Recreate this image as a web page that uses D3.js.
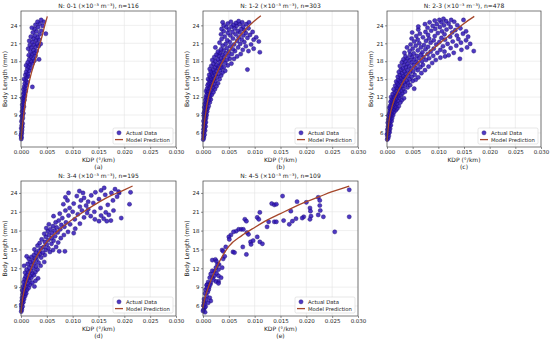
<!DOCTYPE html>
<html>
<head>
<meta charset="utf-8">
<script src="https://cdn.jsdelivr.net/npm/d3@7"></script>
<style>
  body { margin: 0; background: #fff; }
  svg { display: block; }
  text { font-family: "DejaVu Sans", sans-serif; fill: #222; }
</style>
</head>
<body>
<div id="chart"></div>
<script>
// Panel titles and sub-captions
const titles = [
  "N: 0-1 (×10⁻³ m⁻³), n=116",
  "N: 1-2 (×10⁻³ m⁻³), n=303",
  "N: 2-3 (×10⁻³ m⁻³), n=478",
  "N: 3-4 (×10⁻³ m⁻³), n=195",
  "N: 4-5 (×10⁻³ m⁻³), n=109"
];
const tags = ["(a)", "(b)", "(c)", "(d)", "(e)"];
const xTicks = [0, 0.005, 0.010, 0.015, 0.020, 0.025, 0.030];
const yTicks = [6, 9, 12, 15, 18, 21, 24];
const legendLabels = ["Actual Data", "Model Prediction"];

// Scatter points: [KDP in 1e-3 °/km, body length mm]
const pointsA = [[0.05,5.0],[0.1,5.3],[0.0,5.6],[0.15,5.9],[0.1,6.2],[0.2,6.5],[0.05,6.8],[0.25,7.0],[0.15,7.3],[0.3,7.6],[0.1,7.9],[0.2,8.2],[0.35,8.5],[0.15,8.8],[0.3,9.0],[0.45,9.3],[0.2,9.6],[0.4,9.9],[0.3,10.2],[0.55,10.4],[0.25,10.7],[0.5,11.0],[0.4,11.3],[0.65,11.5],[0.3,11.8],[0.55,12.0],[0.75,12.2],[0.45,12.5],[0.6,12.8],[0.9,13.0],[0.5,13.3],[0.8,13.5],[0.65,13.8],[1.0,14.0],[2.2,13.7],[0.75,14.3],[1.2,14.5],[0.9,14.8],[0.6,15.0],[1.1,15.3],[1.4,15.5],[0.85,15.7],[1.3,15.9],[1.0,16.2],[1.6,16.4],[1.2,16.7],[1.9,16.9],[1.4,17.1],[1.0,17.3],[1.7,17.5],[2.2,17.6],[1.3,17.8],[2.0,18.0],[2.6,18.1],[3.5,18.3],[1.6,18.3],[2.3,18.5],[1.9,18.8],[2.8,18.9],[1.5,19.0],[2.2,19.2],[2.6,19.4],[1.8,19.6],[3.0,19.7],[2.4,19.9],[1.4,20.1],[2.0,20.3],[2.8,20.4],[3.4,20.5],[1.7,20.7],[2.5,20.8],[3.1,21.0],[3.8,20.9],[2.2,21.2],[1.6,21.4],[2.9,21.5],[3.5,21.6],[2.4,21.8],[3.2,22.0],[1.9,22.1],[2.7,22.3],[4.8,22.6],[3.6,22.5],[2.3,22.8],[3.0,23.0],[3.9,23.1],[2.6,23.4],[2.1,23.6],[3.3,23.7],[4.2,23.9],[2.8,24.1],[3.6,24.3],[4.4,24.6],[3.2,24.6],[3.9,24.9]];

const pointsB = [[0.05,4.9],[0.15,5.2],[0.1,5.5],[0.3,5.7],[0.05,6.0],[0.2,6.2],[0.4,6.4],[0.1,6.6],[0.3,6.8],[0.2,7.0],[0.5,7.1],[0.15,7.3],[0.35,7.5],[0.25,7.7],[0.55,7.8],[0.1,8.0],[0.4,8.2],[0.3,8.4],[0.6,8.5],[0.2,8.7],[0.45,8.9],[0.7,9.0],[0.35,9.1],[0.15,9.3],[0.55,9.4],[0.8,9.6],[0.3,9.7],[0.6,9.9],
[0.4,10.0],[0.9,10.1],[0.25,10.3],[0.7,10.4],[1.1,10.5],[0.5,10.7],[0.35,10.9],[0.85,11.0],[1.3,11.1],[0.6,11.2],[1.0,11.4],[0.45,11.5],[0.75,11.7],[1.5,11.6],[1.2,11.8],[0.55,12.0],[0.95,12.1],[1.4,12.2],[0.7,12.4],[1.7,12.4],[1.1,12.6],[0.85,12.8],[1.3,12.9],[2.0,12.8],[0.6,13.0],
[1.0,13.1],[1.6,13.2],[2.3,13.3],[0.8,13.4],[1.2,13.6],[1.9,13.6],[1.4,13.8],[2.6,13.8],[0.9,14.0],[1.7,14.0],[2.1,14.2],[1.1,14.3],[1.5,14.4],[2.9,14.3],[1.8,14.6],[1.3,14.8],[2.4,14.7],[2.0,14.9],[1.0,15.0],[1.6,15.1],[3.2,15.0],[2.2,15.2],[1.4,15.4],[2.7,15.4],[1.9,15.6],[3.5,15.6],[1.2,15.7],[2.4,15.8],[3.0,15.9],[1.7,16.0],[2.1,16.2],[3.8,16.1],[1.5,16.3],[2.6,16.4],[3.3,16.5],[4.3,16.4],[2.0,16.6],[1.3,16.7],[2.9,16.8],[3.6,16.9],
[8.6,16.6],[2.3,17.0],[4.0,17.0],[1.6,17.2],[3.0,17.2],[4.8,17.3],[2.6,17.4],[3.5,17.5],[2.0,17.6],[4.3,17.7],[5.5,17.6],[3.2,17.9],[2.4,18.0],[3.8,18.1],[1.8,18.2],[4.6,18.2],[2.9,18.3],[5.2,18.4],[3.5,18.5],[6.0,18.4],[2.2,18.7],[4.1,18.7],[3.0,18.9],[4.9,18.9],[6.6,18.8],[2.6,19.1],[3.7,19.1],[5.6,19.2],[4.4,19.3],[7.3,19.2],[3.3,19.4],[11.0,19.5],[2.9,19.6],[5.0,19.6],[6.2,19.7],[4.0,19.8],[8.8,19.7],[3.5,20.0],[5.8,20.0],[7.7,19.9],[4.6,20.2],[2.4,20.3],[6.8,20.3],[9.8,20.1],[5.3,20.5],
[3.8,20.6],[8.3,20.5],[6.0,20.8],[4.4,20.9],[7.2,20.9],[9.3,20.8],[10.8,21.3],[3.2,21.1],[5.2,21.2],[8.0,21.2],[6.6,21.4],[4.7,21.5],[9.8,21.6],[7.5,21.6],[3.6,21.7],[5.8,21.8],[8.6,21.9],[6.9,22.0],[4.2,22.1],[10.3,22.0],[5.3,22.3],[7.8,22.3],[9.1,22.4],[3.5,22.5],[6.3,22.5],[4.8,22.7],[8.3,22.7],[7.1,22.8],[5.7,22.9],[9.6,22.9],[4.0,23.0],[6.7,23.1],[8.0,23.2],[5.0,23.3],[3.6,23.4],[7.4,23.4],[6.1,23.5],[8.8,23.5],[4.5,23.7],[5.5,23.8],[7.8,23.8],[6.5,23.9],[4.0,24.0],[5.9,24.1],[7.1,24.2],[8.4,24.2],[4.8,24.3],[6.4,24.4],[3.8,24.5],[7.6,24.5],[5.4,24.6],[8.9,24.5],[6.9,24.7]];

const pointsC = [[0.05,4.9],[0.2,5.1],[0.1,5.4],[0.35,5.5],[0.0,5.8],[0.25,5.9],[0.5,6.1],[0.15,6.3],[0.4,6.4],[0.1,6.6],[0.6,6.7],[0.3,6.9],[0.2,7.1],[0.5,7.2],[0.75,7.3],[0.35,7.5],[0.15,7.7],[0.6,7.8],[0.45,8.0],[0.9,8.0],[0.25,8.2],[0.7,8.3],[0.4,8.5],[1.0,8.5],[0.55,8.7],[0.3,8.9],[0.85,8.9],[1.2,9.0],[0.65,9.1],[0.45,9.3],[1.0,9.3],
[0.8,9.5],[1.4,9.5],[0.55,9.7],[1.1,9.8],[1.7,9.8],[0.7,10.0],[1.3,10.1],[0.45,10.2],[2.0,10.1],[0.95,10.3],[1.6,10.4],[0.6,10.5],[1.2,10.6],[2.3,10.5],[0.85,10.8],[1.5,10.8],[1.9,10.9],[1.05,11.0],[0.7,11.2],[1.7,11.2],[2.6,11.1],[1.3,11.3],[2.1,11.4],[0.9,11.5],[1.55,11.6],[2.9,11.5],[1.15,11.8],[1.9,11.8],[2.4,11.9],[3.3,11.8],[0.8,12.0],[1.4,12.1],[2.2,12.2],[1.7,12.3],[2.7,12.3],[1.1,12.5],[2.0,12.6],[3.0,12.6],
[1.5,12.8],[2.4,12.9],[3.5,12.9],[1.8,13.1],[2.8,13.1],[1.3,13.3],[2.2,13.4],[5.3,13.4],[3.2,13.4],[1.9,13.6],[2.6,13.7],[4.0,13.6],[1.6,13.9],[3.0,13.9],[2.3,14.0],[3.6,14.1],[4.5,14.0],[2.0,14.3],[2.8,14.3],[3.3,14.5],[4.1,14.4],[1.8,14.6],[2.5,14.7],[5.0,14.7],[3.8,14.8],[2.2,14.9],[3.0,15.0],[4.4,15.0],[5.6,14.9],[2.7,15.2],[3.5,15.3],[2.1,15.4],[4.8,15.4],[6.1,15.3],[3.2,15.5],[4.1,15.6],[2.5,15.7],[5.4,15.7],[3.7,15.9],
[2.9,16.0],[4.5,16.1],[6.7,16.0],[2.3,16.2],[3.4,16.3],[5.1,16.3],[4.0,16.5],[6.0,16.5],[2.7,16.6],[7.4,16.5],[3.1,16.8],[4.7,16.8],[5.6,16.9],[3.7,17.0],[6.5,17.0],[2.5,17.2],[4.3,17.2],[8.1,17.1],[5.2,17.4],[3.3,17.4],[7.0,17.4],[6.0,17.6],[4.0,17.6],[2.9,17.8],[4.8,17.8],[8.8,17.7],[5.7,17.9],[3.6,18.0],[6.8,18.0],[4.4,18.2],[7.6,18.2],[3.2,18.3],[5.3,18.3],[9.5,18.2],[6.2,18.5],[4.0,18.5],[8.2,18.5],[14.2,18.4],[4.9,18.7],[7.1,18.7],[10.4,18.6],[5.8,18.9],[3.6,18.8],[9.0,18.9],[6.6,19.1],[11.3,18.8],[4.5,19.1],[7.9,19.2],[12.0,19.0],
[5.2,19.3],[9.8,19.4],[3.4,19.4],[6.9,19.5],[13.0,19.4],[8.5,19.6],[4.4,19.7],[11.2,19.6],[16.9,19.7],[6.0,19.8],[10.4,19.9],[7.5,20.0],[14.5,19.9],[5.0,20.1],[9.1,20.1],[12.4,20.2],[3.9,20.3],[6.6,20.3],[8.0,20.4],[15.6,20.3],[10.9,20.5],[5.6,20.6],[13.5,20.6],[7.2,20.7],[9.6,20.8],[4.6,20.8],[11.8,20.9],[6.3,21.0],[16.2,20.9],[8.5,21.1],[14.4,21.1],[10.2,21.2],[5.3,21.3],[12.8,21.3],[7.6,21.4],[9.1,21.5],[15.4,21.5],[6.0,21.6],[11.3,21.6],[13.9,21.7],[4.8,21.8],[8.2,21.8],
[10.6,21.9],[7.0,22.0],[12.3,22.1],[15.8,22.1],[5.7,22.2],[9.3,22.2],[13.6,22.3],[8.0,22.4],[11.2,22.5],[6.4,22.6],[14.8,22.6],[9.9,22.7],[12.7,22.8],[4.9,22.8],[7.5,22.9],[15.4,23.0],[10.7,23.0],[8.6,23.1],[13.3,23.2],[6.1,23.3],[11.6,23.3],[9.4,23.4],[14.3,23.5],[7.9,23.6],[10.3,23.7],[12.4,23.7],[6.1,23.8],[8.9,23.9],[11.1,24.0],[13.7,24.0],[9.7,24.2],[7.4,24.2],[12.0,24.3],[10.6,24.5],[8.3,24.5],[11.5,24.7],[13.1,24.6],[9.3,24.8],[12.5,24.9],[10.2,24.9],[11.0,25.1],[14.9,24.9]];

const pointsD = [[0.05,5.1],[0.15,5.4],[0.1,5.7],[0.3,5.9],[0.05,6.2],[0.25,6.4],[0.45,6.6],[0.15,6.8],[0.35,7.0],[0.6,7.1],[0.2,7.3],[0.5,7.5],[0.8,7.6],[0.3,7.8],[0.65,8.0],[1.0,8.0],[0.45,8.2],[0.85,8.4],[0.25,8.5],
[1.2,8.6],[0.6,8.8],[1.5,8.9],[0.4,9.1],[1.0,9.2],[2.6,9.1],[0.75,9.4],[1.8,9.4],[1.3,9.6],[0.5,9.8],[2.2,9.7],[1.0,10.0],[1.6,10.1],[2.8,10.0],[0.7,10.3],[1.3,10.4],[2.0,10.5],[3.3,10.4],[0.9,10.7],[1.7,10.8],[2.5,10.9],[1.2,11.0],[2.2,11.2],[0.8,11.3],
[1.5,11.4],[2.8,11.4],[1.9,11.6],[1.1,11.8],[3.2,11.8],[2.4,12.0],[1.6,12.1],[0.6,12.4],[2.9,12.3],[2.0,12.5],[3.8,12.4],[1.3,12.7],[2.6,12.8],[3.4,12.9],[1.8,13.0],[4.5,13.0],[2.3,13.2],[3.0,13.4],[1.5,13.5],[2.7,13.6],[3.9,13.7],[2.0,13.8],[3.3,14.0],[1.1,13.9],[2.5,14.1],[4.6,14.1],[3.7,14.3],
[2.9,14.5],[4.2,14.5],[8.5,14.7],[5.6,14.6],[3.5,14.8],[7.4,14.7],[4.8,14.9],[6.2,14.9],[2.6,15.0],[3.9,15.2],[5.3,15.2],[4.4,15.4],[6.8,15.4],[3.2,15.6],[5.0,15.8],[5.9,15.9],[3.6,16.0],[4.6,16.2],[7.2,16.1],[6.3,16.4],[5.3,16.5],[4.0,16.6],
[5.9,16.8],[7.7,16.8],[4.8,17.0],[6.6,17.1],[5.4,17.3],[8.3,17.3],[10.2,17.6],[4.5,17.5],[6.0,17.6],[7.1,17.7],[5.2,17.9],[9.1,17.8],[6.5,18.0],[5.7,18.2],[7.6,18.2],[10.5,18.3],[4.9,18.4],[6.9,18.5],[8.4,18.6],[6.2,18.7],[7.8,18.9],[5.4,19.0],[9.5,19.0],[11.4,19.1],
[6.7,19.3],[8.7,19.3],[15.1,19.5],[16.6,19.5],[17.4,19.6],[7.3,19.6],[19.4,20.0],[10.4,19.8],[14.3,19.8],[16.0,19.9],[8.0,20.0],[12.2,20.1],[6.3,20.3],[9.2,20.4],[13.5,20.3],[15.5,20.4],[17.0,20.5],[11.0,20.6],[7.5,20.7],[12.8,20.8],[16.4,20.9],[10.0,21.0],[14.2,21.0],[8.6,21.2],[11.8,21.2],[17.9,21.2],[13.0,21.4],
[21.0,22.2],[9.4,21.6],[15.4,21.6],[11.4,21.8],[12.6,22.0],[16.8,22.1],[8.2,22.2],[10.2,22.3],[14.0,22.4],[13.0,22.6],[9.0,22.8],[11.6,22.8],[17.8,22.8],[15.1,23.0],[12.2,23.2],[8.6,23.3],[18.6,23.4],[10.8,23.5],[13.6,23.6],[16.3,23.7],[9.2,24.0],[12.0,24.0],[14.4,24.1],[17.5,24.0],[19.0,24.0],[21.2,24.1],[11.3,24.3],[15.5,24.4],[18.2,24.6],[16.1,24.8],[18.9,24.2]];

const pointsE = [[28.3,24.5],[28.3,20.2],[25.5,17.8],[22.6,22.0],[22.3,23.3],[22.6,22.8],[22.7,21.2],[22.3,20.5],[23.3,20.2],[20.7,21.6],[20.8,21.1],[20.9,20.3],[20.7,19.8],[20.0,22.5],[19.5,20.2],[19.2,20.0],[18.2,22.6],[18.0,19.9],[17.3,19.5],[16.7,19.0],[17.0,21.1],[15.4,23.5],[15.6,19.6],[13.3,22.3],[13.8,22.1],[14.2,22.2],[13.8,19.4],[14.2,19.4],[12.7,19.4],[12.4,18.6],[11.0,20.9],[10.5,20.1],[10.8,19.8],[11.0,16.2],[11.5,15.9],[10.5,17.0],[8.1,19.8],[8.4,19.5],[8.5,17.7],[8.8,17.4],[8.4,14.2],[6.9,18.2],[7.4,18.2],[7.8,18.2],[6.4,17.9],[5.9,17.8],[9.2,16.2],[9.7,16.4],[9.3,15.8],[7.7,15.4],[5.4,17.3],[5.0,17.0],[4.4,15.4],[3.7,14.9],[3.9,14.7],[5.8,14.6],[6.1,14.5],[5.1,16.6],[3.9,13.5],[3.1,12.6],[3.7,12.1],[3.0,11.8],[2.5,12.1],[2.2,11.5],[1.8,13.3],[2.4,13.4],[2.6,13.1],[3.0,10.8],[3.5,10.5],[3.0,9.9],[2.5,9.9],[2.2,10.8],[1.5,11.1],[1.8,10.5],[1.3,10.5],[1.0,9.8],[1.5,9.7],[0.8,9.4],[0.7,9.3],[1.2,9.0],[0.5,8.6],[1.8,11.6],[2.6,11.2],[0.4,8.0],[0.7,7.6],[0.9,8.2],[0.2,7.1],[0.1,6.1],[0.3,5.7],[0.1,5.4],[0.4,5.0],[0.0,5.2],[0.5,5.9],[1.3,7.3],[1.5,6.8],[1.0,6.5],[3.0,9.6],[0.2,6.6],[0.6,7.0],[1.1,8.6],[2.0,10.2],[1.4,9.4],[0.3,6.3],[2.8,12.6],[4.2,13.9],[0.8,8.9]];

// Model prediction curves: [KDP in 1e-3 °/km, body length mm]
const modelA = [[0,4.8],[0.3,7.5],[0.6,9.6],[1.0,12.0],[1.5,14.2],[2.0,16.0],[2.7,18.0],[3.2,19.5],[3.7,21.0],[4.2,22.6],[4.6,24.0],[5.1,25.5]];
const modelB = [[0,4.8],[0.25,7.5],[0.5,9.2],[1.0,11.8],[1.5,13.4],[2.5,15.6],[3.5,17.5],[5.0,19.6],[6.5,21.5],[8.0,23.1],[9.5,24.4],[11.2,25.6]];
const modelC = [[0,4.6],[0.25,7.0],[0.5,8.6],[1.0,10.5],[2.5,13.5],[4.0,15.7],[5.0,16.8],[7.5,19.0],[10.0,20.8],[12.5,22.6],[15.0,24.3],[17.0,25.5]];
const modelD = [[0,4.9],[0.25,6.8],[0.5,8.0],[1.0,9.7],[2.5,13.0],[5.0,16.2],[7.5,18.2],[10.0,19.8],[12.5,21.2],[15.0,22.5],[17.5,23.6],[20.0,24.5],[21.6,25.1]];
const modelE = [[0,5.7],[0.25,6.8],[0.5,7.6],[1.0,8.9],[2.5,11.9],[5.0,15.5],[7.5,17.2],[10.0,18.5],[12.5,19.7],[15.0,20.7],[17.5,21.7],[20.0,22.6],[22.5,23.4],[25.0,24.2],[28.3,25.1]];

const allPoints = [pointsA, pointsB, pointsC, pointsD, pointsE];
const allModels = [modelA, modelB, modelC, modelD, modelE];

const width = 550, height = 343;
const dotColor = "rgb(48,22,185)", dotEdge = "rgb(28,12,110)", lineColor = "#a5462a";

// plot boxes (pixels)
const boxes = [
  { left: 21,  top: 11,  w: 155, h: 136, yDom: [3.65, 26.4] },
  { left: 203, top: 11,  w: 155, h: 136, yDom: [3.65, 26.4] },
  { left: 387, top: 11,  w: 154, h: 136, yDom: [3.65, 26.4] },
  { left: 21,  top: 181, w: 155, h: 135, yDom: [4.4, 25.9] },
  { left: 203, top: 181, w: 155, h: 135, yDom: [4.4, 25.9] }
];

const svg = d3.select("#chart").append("svg")
    .attr("width", width)
    .attr("height", height);

boxes.forEach((b, i) => {
    const g = svg.append("g").attr("transform", `translate(${b.left},${b.top})`);

    const x = d3.scaleLinear().domain([0, 0.030]).range([0, b.w]);
    const y = d3.scaleLinear().domain(b.yDom).range([b.h, 0]);

    // grid
    g.append("g").selectAll("line").data(xTicks).join("line")
        .attr("x1", d => x(d)).attr("x2", d => x(d))
        .attr("y1", 0).attr("y2", b.h)
        .attr("stroke", "#e4e4e4").attr("stroke-width", 0.6);
    g.append("g").selectAll("line").data(yTicks).join("line")
        .attr("x1", 0).attr("x2", b.w)
        .attr("y1", d => y(d)).attr("y2", d => y(d))
        .attr("stroke", "#e4e4e4").attr("stroke-width", 0.6);

    // axes
    const xAxis = g.append("g")
        .attr("transform", `translate(0,${b.h})`)
        .call(d3.axisBottom(x).tickValues(xTicks).tickFormat(d3.format(".3f")).tickSize(2).tickPadding(1.5));
    const yAxis = g.append("g")
        .call(d3.axisLeft(y).tickValues(yTicks).tickSize(2).tickPadding(1.5));
    [xAxis, yAxis].forEach(a => {
        a.select(".domain").remove();
        a.selectAll("line").attr("stroke", "#444").attr("stroke-width", 0.6);
        a.selectAll("text").style("font-size", "5.5px").attr("fill", "#222");
    });

    // scatter
    g.append("g").selectAll("circle").data(allPoints[i]).join("circle")
        .attr("cx", d => x(d[0] / 1000))
        .attr("cy", d => y(d[1]))
        .attr("r", 2.1)
        .attr("fill", dotColor)
        .attr("fill-opacity", 0.85)
        .attr("stroke", dotEdge)
        .attr("stroke-width", 0.4);

    // model line
    const line = d3.line().curve(d3.curveMonotoneX)
        .x(d => x(d[0] / 1000)).y(d => y(d[1]));
    g.append("path").datum(allModels[i])
        .attr("d", line)
        .attr("fill", "none")
        .attr("stroke", lineColor)
        .attr("stroke-width", 1.3);

    // frame
    g.append("rect").attr("width", b.w).attr("height", b.h)
        .attr("fill", "none").attr("stroke", "#444").attr("stroke-width", 0.7);

    // legend
    const lg = g.append("g").attr("transform", `translate(${b.w - 63},${b.h - 19})`);
    lg.append("rect").attr("width", 60).attr("height", 16).attr("rx", 1.5)
        .attr("fill", "#fff").attr("fill-opacity", 0.85)
        .attr("stroke", "#ccc").attr("stroke-width", 0.5);
    lg.append("circle").attr("cx", 6).attr("cy", 4.8).attr("r", 2.1)
        .attr("fill", dotColor).attr("fill-opacity", 0.85)
        .attr("stroke", dotEdge).attr("stroke-width", 0.4);
    lg.append("line").attr("x1", 2).attr("x2", 10).attr("y1", 11.6).attr("y2", 11.6)
        .attr("stroke", lineColor).attr("stroke-width", 1.3);
    lg.selectAll("text.lab").data(legendLabels).join("text")
        .attr("class", "lab")
        .attr("x", 13).attr("y", (d, j) => 6.8 + j * 6.8)
        .style("font-size", "5.3px")
        .text(d => d);

    // title
    g.append("text")
        .attr("x", b.w / 2).attr("y", -3)
        .attr("text-anchor", "middle")
        .style("font-size", "6px")
        .text(titles[i]);

    // axis labels
    g.append("text")
        .attr("x", b.w / 2).attr("y", b.h + 14.5)
        .attr("text-anchor", "middle")
        .style("font-size", "6px")
        .text("KDP (°/km)");
    g.append("text")
        .attr("x", b.w / 2).attr("y", b.h + 21.5)
        .attr("text-anchor", "middle")
        .style("font-size", "6px")
        .text(tags[i]);
    g.append("text")
        .attr("transform", `translate(-14,${b.h / 2}) rotate(-90)`)
        .attr("text-anchor", "middle")
        .style("font-size", "6px")
        .text("Body Length (mm)");
});
</script>
</body>
</html>
